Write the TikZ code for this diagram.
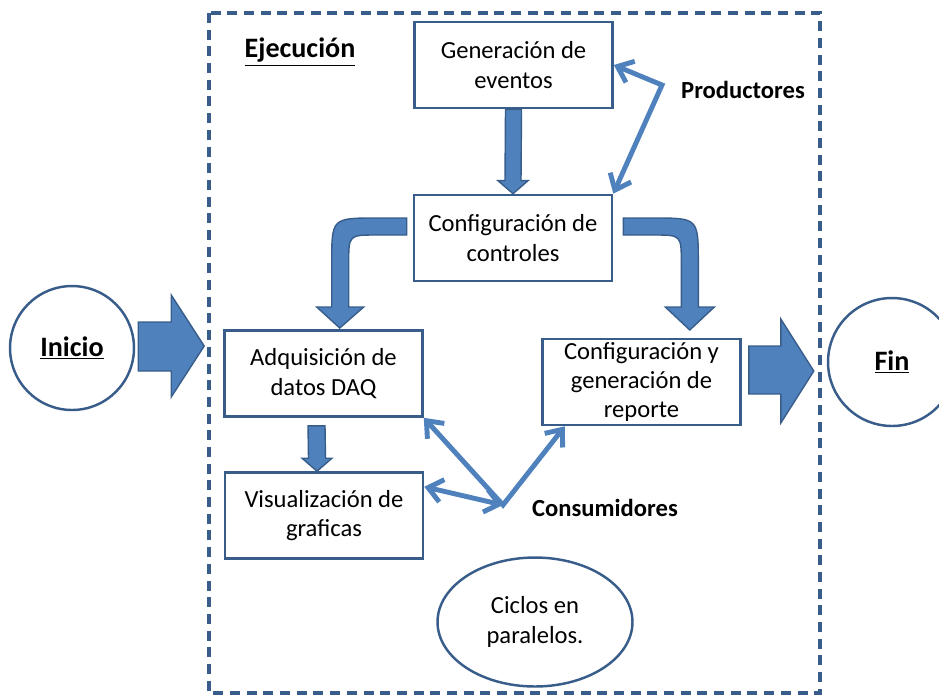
\documentclass[tikz,border=0pt]{standalone}
\usepackage{fontspec}
\setmainfont{Carlito}
\usetikzlibrary{arrows.meta,shapes.geometric}
\definecolor{azul}{HTML}{4F81BD}
\definecolor{borde}{HTML}{385D8A}
\begin{document}
\begin{tikzpicture}
[x=0.02cm, y=-0.02cm, font=\fontsize{14}{16.7}\selectfont]
\tikzstyle{caja}=[rectangle, draw=borde, line width=1.5pt, fill=white, align=center, minimum width=3.96cm, minimum height=1.72cm, inner sep=1pt]
\tikzstyle{flecha}=[fill=azul, draw=borde, line width=0.8pt, line join=miter]
\tikzstyle{enlace}=[draw=azul, line width=2.8pt, line join=miter, {Straight Barb[length=8pt,width=13pt]}-{Straight Barb[length=8pt,width=13pt]}]
\tikzstyle{etiqueta}=[font=\fontsize{14}{16.7}\selectfont\bfseries]
\tikzstyle{grande}=[font=\fontsize{16}{19}\selectfont\bfseries]

\useasboundingbox (0,0) rectangle (939,694);
\draw[borde, line width=2.2pt, dash pattern=on 5.7pt off 3.8pt] (209,13) rectangle (820,693);

\node[caja]	(gen)	at (513.5,65)	{Generación de\\eventos};
\node[caja]	(conf)	at (513,238)	{Configuración de\\controles};
\node[caja]	(adq)	at (323.5,373.5)	{Adquisición de\\datos DAQ};
\node[caja]	(vis)	at (324,515.5)	{Visualización de\\graficas};
\node[caja]	(rep)	at (641.5,382)	{Configuración y\\generación de\\reporte};

\node[circle, draw=borde, line width=1.4pt, minimum size=2.48cm, grande]	(inicio)	at (72,348)	{\underline{Inicio}};
\node[circle, draw=borde, line width=1.4pt, minimum size=2.56cm, grande]	(fin)	at (892,362)	{\underline{Fin}};
\node[ellipse, draw=borde, line width=1.4pt, minimum width=3.9cm, minimum height=2.58cm, align=center]	(ciclos)	at (535,622)	{Ciclos en\\paralelos.};

\node[grande]	(ejecucion)	at (300,52)	{\underline{Ejecución}};
\node[etiqueta]	(productores)	at (743,90)	{Productores};
\node[etiqueta]	(consumidores)	at (605,508)	{Consumidores};

\coordinate (prod) at (662,85);
\coordinate (cons) at (503,505);

\filldraw[flecha] ([shift={(-8,0)}]gen.south) -- ([shift={(-8,-13)}]conf.north) -- ([shift={(-15,-13)}]conf.north) -- (conf.north) -- ([shift={(15,-13)}]conf.north) -- ([shift={(8,-13)}]conf.north) -- ([shift={(8,0)}]gen.south) -- cycle;
\filldraw[flecha] ([shift={(-15.5,8)}]adq.south) -- ([shift={(-15.5,-13)}]vis.north) -- ([shift={(-22,-13)}]vis.north) -- ([shift={(-7,0)}]vis.north) -- ([shift={(8,-13)}]vis.north) -- ([shift={(1.5,-13)}]vis.north) -- ([shift={(1.5,8)}]adq.south) -- cycle;

\begin{scope}[shift={(inicio.east)}]
\filldraw[flecha] (3,-26) -- (36,-26) -- (36,-53) -- (69,-2) -- (36,49) -- (36,23) -- (3,23) -- cycle;
\end{scope}
\begin{scope}[shift={(rep.east)}]
\filldraw[flecha] (7,-36) -- (39,-36) -- (39,-63) -- (72,-11) -- (39,41) -- (39,12) -- (7,12) -- cycle;
\end{scope}
\begin{scope}[shift={(conf.west)}]
\filldraw[flecha] (-6,-20) -- (-36,-20) .. controls (-81,-20) .. (-81,25) -- (-81,69) -- (-96,69) -- (-73,90) -- (-49,69) -- (-64,69) -- (-64,25) .. controls (-64,-3) .. (-36,-3) -- (-6,-3) -- cycle;
\end{scope}
\begin{scope}[shift={(conf.east)}]
\filldraw[flecha] (10,-20) -- (40,-20) .. controls (85,-20) .. (85,25) -- (85,69) -- (101,69) -- (76.5,92) -- (52,69) -- (68,69) -- (68,25) .. controls (68,-3) .. (40,-3) -- (10,-3) -- cycle;
\end{scope}

\draw[enlace] (gen.east) -- (prod) -- (conf.north east);
\draw[enlace] (adq.south east) -- (cons) -- (rep.210);
\draw[enlace] (cons) -- (vis.16);
\end{tikzpicture}
\end{document}
